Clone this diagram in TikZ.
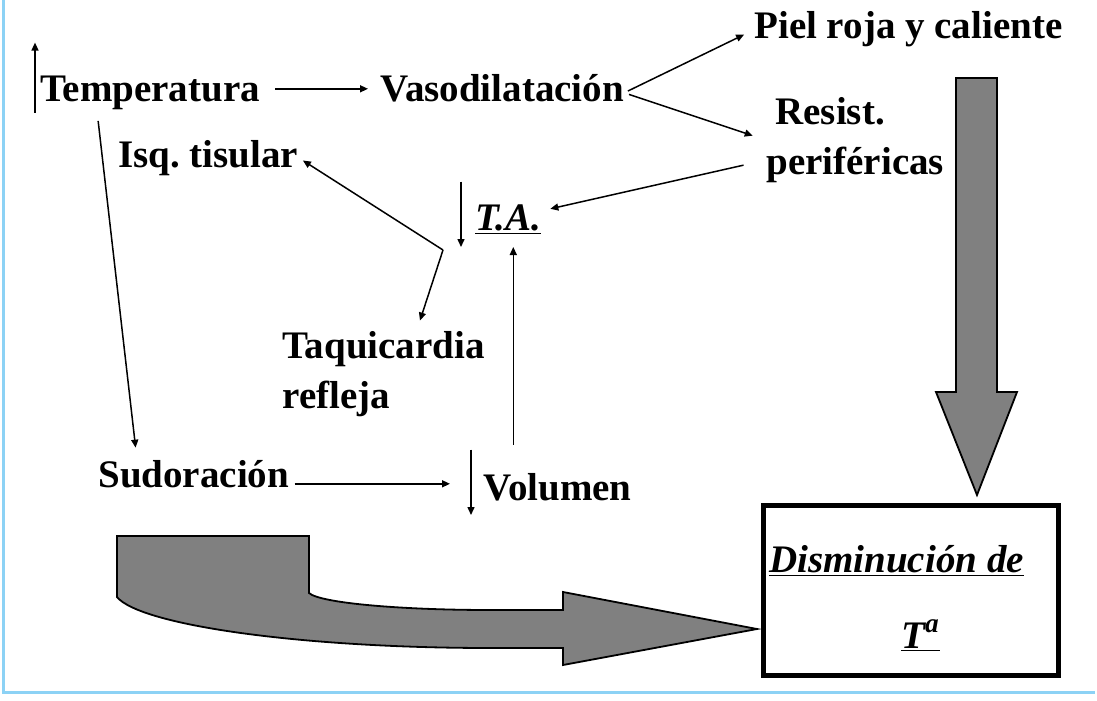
\documentclass[tikz,border=0pt]{standalone}
\usepackage{fontspec}
\setmainfont{Liberation Serif}
\usepackage{xcolor}
\usetikzlibrary{arrows.meta}
\definecolor{marco}{RGB}{140,210,245}
\frenchspacing

\begin{document}
\begin{tikzpicture}[x=0.5pt,y=-0.5pt,
        texto/.style={inner sep=0pt, font=\fontsize{19.5}{25}\selectfont\bfseries, text height=13.5pt, text depth=4.3pt},
        bloque/.style={inner sep=0pt, font=\fontsize{19.5}{25}\selectfont\bfseries, align=left},
        flecha/.style={line width=0.75pt, -{Triangle[length=4pt,width=3.5pt]}},
        gruesa/.style={fill=gray, draw=black, line width=0.9pt, line join=miter}]
            \useasboundingbox (0,0) rectangle (1097,701);

            \node[texto, anchor=base west] (temp) at (40,102) {Temperatura};
            \node[texto, anchor=base west] (vaso) at (380,102) {Vasodilatación};
            \node[texto, anchor=base west] (piel) at (754,39) {Piel roja y caliente};
            \node[bloque, anchor=north west] (resist) at (766,97) {\hspace*{4.5pt}Resist.\\periféricas};
            \node[texto, anchor=base west] (isq) at (118,167) {Isq. tisular};
            \node[texto, anchor=base west] (ta) at (475,230) {\itshape\underline{T.A.}};
            \node[bloque, anchor=north west] (taqui) at (282,331) {Taquicardia\\refleja};
            \node[texto, anchor=base west] (sudo) at (98,487) {Sudoración};
            \node[texto, anchor=base west] (vol) at (483,500) {Volumen};
            \node[draw, line width=2.5pt, minimum width=147.5pt, minimum height=85pt, inner sep=0pt,
                font=\fontsize{19.5}{25}\selectfont\bfseries\itshape, align=center] (caja) at (910.5,590)
                {\rule{0pt}{22pt}\underline{Disminución de}\hspace*{14pt}\\[13pt]\hspace*{10pt}\underline{T\textsuperscript{a}}};
            \coordinate (rama) at (443,250);

            \draw[gruesa] (956,78) -- (997,78) -- (997,392) -- (1017,392) -- ([xshift=33.25pt,yshift=3.75pt]caja.north) -- (936,392) -- (956,392) -- cycle;
            \draw[gruesa] (117,536) -- (309,536) -- (309,593) .. controls (320,603) and (400,610) .. (490,610) -- (563,610) -- (563,592)
                -- ([xshift=-1.75pt,yshift=-19.5pt]caja.west) -- (563,665) -- (563,648) -- (490,648) .. controls (300,648) and (140,625) .. (117,597) -- cycle;

            \draw[flecha, shorten <=7.5pt, shorten >=6pt] ([yshift=2pt]temp.east) -- ([yshift=2pt]vaso.west);
            \draw[flecha, shorten <=2pt, shorten >=5.5pt] (vaso.east) -- (piel.west);
            \draw[flecha, shorten <=2.5pt, shorten >=7pt] (vaso.east) -- (resist.west);
            \draw[flecha, shorten <=11.5pt, shorten >=4.5pt] ([yshift=-10pt]resist.west) -- ([yshift=5pt]ta.east);
            \draw[flecha, shorten >=2.5pt] (rama) -- (isq.east);
            \draw[flecha, shorten >=5.5pt] (rama) -- ([xshift=16.5pt]taqui.north);
            \draw[flecha, shorten <=5pt, shorten >=6pt] ([xshift=28.5pt]temp.south west) -- ([xshift=19.5pt]sudo.north west);
            \draw[flecha, shorten <=2.5pt, shorten >=16.5pt] ([yshift=-3pt]sudo.east) -- ([yshift=3.5pt]vol.west);
            \draw[flecha, shorten <=14pt, shorten >=4pt] ([xshift=2.5pt]ta.south |- vol.north) -- ([xshift=2.5pt]ta.south);

            \draw[flecha] ([xshift=-2.5pt,yshift=-1pt]temp.south west) -- ([xshift=-2.5pt,yshift=16pt]temp.north west);
            \draw[flecha] ([xshift=-7pt,yshift=10.5pt]ta.north west) -- ([xshift=-7pt,yshift=-4pt]ta.south west);
            \draw[flecha] ([xshift=-6pt,yshift=11.5pt]vol.north west) -- ([xshift=-6pt,yshift=-3pt]vol.south west);

            \draw[marco, line width=1.5pt] (3,0) -- (3,692) -- (1095,692);
\end{tikzpicture}
\end{document}
